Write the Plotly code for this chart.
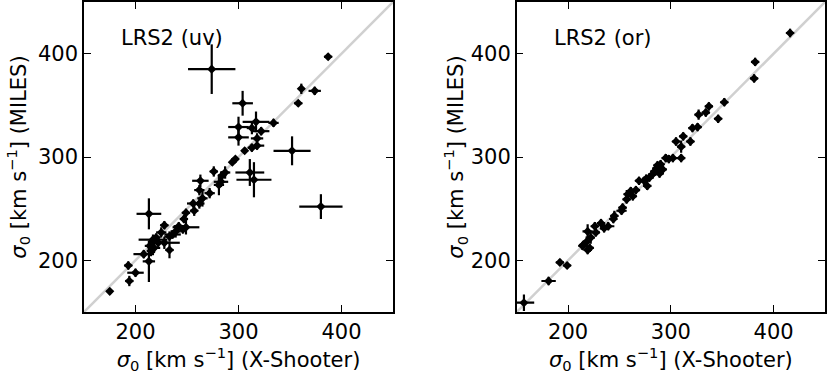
import plotly.graph_objects as go

# 1:1 reference line and axis limits
diag = [150, 450]
ticks = [200, 300, 400]

# LRS2 (uv) vs X-Shooter
uv_x = [175, 193, 194, 200, 213, 213, 274, 304, 387, 361, 374, 358, 334, 352, 380,
        317, 300, 300, 313, 322, 318, 318, 313, 306, 297, 294, 311, 315, 287, 284,
        276, 283, 281, 263, 272, 265, 262, 256, 257, 249, 247, 246, 249, 239, 233,
        228, 225, 228, 217, 214, 218, 208, 215, 233, 222, 220, 236, 242, 262]
uv_y = [170, 195, 180, 188, 245, 199, 385, 352, 397, 366, 364, 352, 333, 306, 252,
        334, 329, 319, 328, 325, 318, 311, 309, 306, 298, 295, 285, 278, 285, 282,
        286, 276, 273, 277, 265, 260, 255, 255, 248, 246, 240, 230, 232, 228, 223,
        234, 227, 217, 220, 214, 212, 206, 209, 210, 217, 222, 225, 233, 268]
uv_xerr = [3, 4, 4, 8, 12, 6, 23, 10, 4, 3, 6, 4, 5, 18, 21,
           13, 10, 10, 5, 8, 6, 7, 4, 3, 3, 3, 14, 17, 5, 4,
           4, 7, 5, 8, 5, 5, 5, 6, 4, 4, 4, 4, 13, 5, 5,
           4, 5, 15, 14, 5, 6, 10, 4, 4, 5, 4, 8, 5, 5]
uv_yerr = [3, 4, 5, 4, 15, 20, 24, 12, 3, 5, 4, 3, 4, 14, 12,
           10, 10, 8, 6, 4, 5, 4, 4, 3, 3, 3, 13, 17, 6, 4,
           5, 5, 10, 6, 5, 8, 5, 4, 5, 4, 4, 4, 7, 6, 5,
           4, 5, 6, 5, 6, 5, 4, 5, 8, 4, 4, 4, 4, 5]

# LRS2 (or) vs X-Shooter
or_x = [157, 181, 192, 199, 214, 219, 218, 219, 227, 232, 239, 245, 252, 257, 261,
        266, 274, 277, 282, 286, 290, 295, 302, 310, 305, 312, 310, 319, 321, 326,
        327, 334, 337, 346, 352, 381, 382, 416, 289, 292, 269, 253, 226, 215, 221,
        235, 279, 284, 298, 258, 244, 276, 222, 263, 287]
or_y = [159, 180, 198, 195, 214, 210, 218, 228, 227, 236, 233, 243, 248, 259, 267,
        268, 277, 272, 283, 289, 293, 299, 299, 299, 315, 320, 310, 315, 328, 329,
        341, 343, 349, 337, 353, 376, 392, 420, 284, 288, 277, 251, 233, 215, 212,
        231, 280, 286, 298, 264, 240, 279, 222, 262, 292]
or_xerr = [10, 7, 4, 4, 4, 4, 4, 5, 4, 4, 6, 4, 5, 4, 5,
           4, 4, 4, 4, 4, 4, 4, 4, 4, 4, 4, 4, 4, 4, 4,
           4, 4, 4, 4, 4, 4, 4, 4, 4, 4, 4, 4, 4, 4, 4,
           4, 4, 4, 4, 4, 4, 4, 4, 4, 4]
or_yerr = [8, 4, 3, 3, 4, 4, 5, 7, 4, 4, 4, 5, 4, 4, 4,
           4, 4, 4, 4, 4, 4, 4, 4, 4, 4, 4, 6, 4, 4, 4,
           5, 4, 4, 4, 4, 4, 4, 4, 4, 4, 4, 4, 4, 4, 4,
           4, 4, 4, 4, 4, 4, 4, 6, 4, 4]

panels = [("LRS2 (uv)", uv_x, uv_y, uv_xerr, uv_yerr, "x", "y"),
          ("LRS2 (or)", or_x, or_y, or_xerr, or_yerr, "x2", "y2")]

fig = go.Figure()
for name, xs, ys, xe, ye, xa, ya in panels:
    fig.add_trace(go.Scatter(x=diag, y=diag, mode="lines", xaxis=xa, yaxis=ya,
                             line=dict(color="#d0d0d0", width=2.5), showlegend=False))
    fig.add_trace(go.Scatter(
        x=xs, y=ys, mode="markers", xaxis=xa, yaxis=ya, showlegend=False,
        marker=dict(color="black", size=7, symbol="diamond"),
        error_x=dict(type="data", array=xe, color="black", thickness=2.2, width=0),
        error_y=dict(type="data", array=ye, color="black", thickness=2.2, width=0)))
    fig.add_annotation(text=name, x=184, y=415, xref=xa, yref=ya, xanchor="left",
                       yanchor="middle", showarrow=False, font=dict(size=21, color="black"))

xtitle = "<i>σ</i><sub>0</sub> [km s<sup>−1</sup>] (X-Shooter)"
ytitle = "<i>σ</i><sub>0</sub> [km s<sup>−1</sup>] (MILES)"
ax = dict(range=diag, tickvals=ticks, ticks="inside", ticklen=7, tickwidth=1.2,
          tickcolor="black", showline=True, linecolor="black", linewidth=1.5,
          mirror="ticks", showgrid=False, zeroline=False, automargin=False,
          tickfont=dict(size=21, color="black"))

fig.update_layout(
    width=830, height=375,
    margin=dict(l=84, r=5, t=2, b=63),
    paper_bgcolor="white", plot_bgcolor="white",
    font=dict(family="DejaVu Sans", size=21, color="black"),
    xaxis=dict(ax, domain=[0, 0.417], anchor="y",
               title=dict(text=xtitle, font=dict(size=21), standoff=0)),
    yaxis=dict(ax, domain=[0, 1], anchor="x",
               title=dict(text=ytitle, font=dict(size=21), standoff=6)),
    xaxis2=dict(ax, domain=[0.584, 1], anchor="y2",
                title=dict(text=xtitle, font=dict(size=21), standoff=0)),
    yaxis2=dict(ax, domain=[0, 1], anchor="x2",
                title=dict(text=ytitle, font=dict(size=21), standoff=0)),
)

# drop the page's default body margin so the figure sits at the window corner
fig.write_html("out.html", config={"displayModeBar": False},
               post_script="document.body.style.margin='0';")
